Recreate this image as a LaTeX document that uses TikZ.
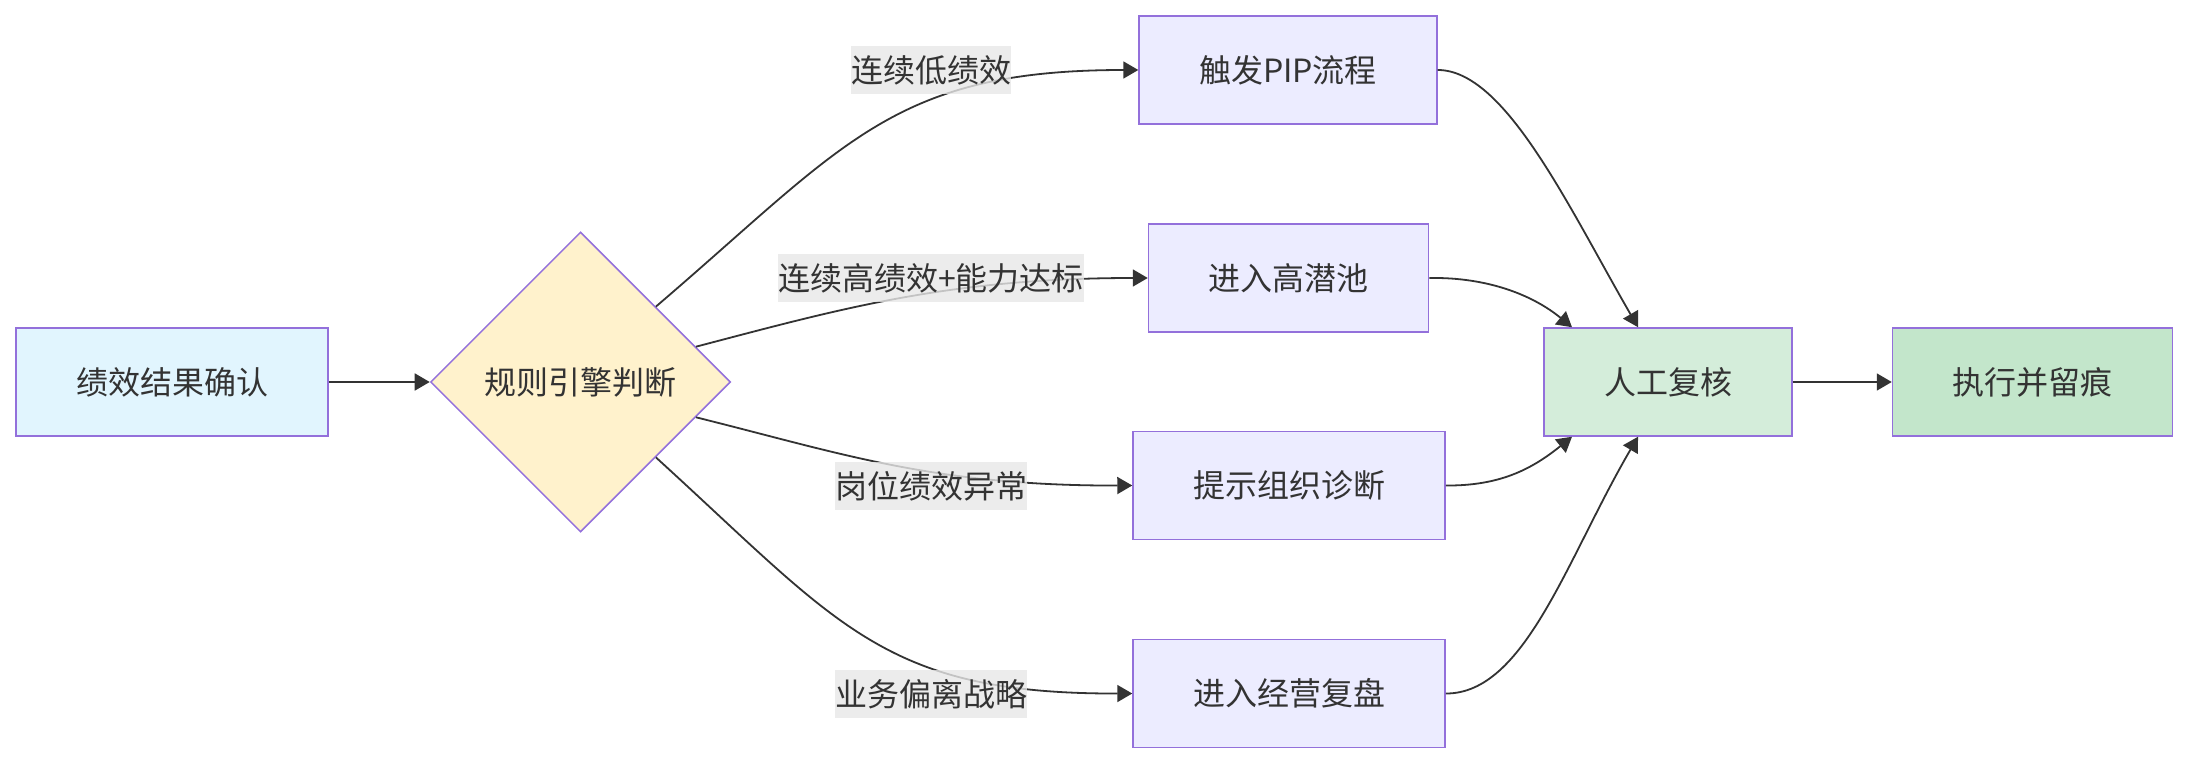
\documentclass[tikz,border=0pt]{standalone}
\usepackage{fontspec}
\newfontfamily\cjk{Noto Sans CJK SC}
\usetikzlibrary{shapes.geometric,arrows.meta,positioning}
\definecolor{ink}{HTML}{333333}
\definecolor{rim}{HTML}{9370DB}
\definecolor{inblue}{HTML}{E1F5FE}
\definecolor{ruleyel}{HTML}{FFF2CC}
\definecolor{actlil}{HTML}{ECECFF}
\definecolor{revgrn}{HTML}{D4EDDA}
\definecolor{fingrn}{HTML}{C3E6CB}
\definecolor{tag}{HTML}{E8E8E8}
\begin{document}
\begin{tikzpicture}[
  x=0.5pt, y=-0.5pt,
  box/.style={rectangle, draw=rim, line width=0.75pt, align=center, text=ink,
              font=\cjk\fontsize{16pt}{19pt}\selectfont,
              minimum height=54pt, inner xsep=30pt, inner ysep=0pt},
  entry/.style={box, fill=inblue},
  act/.style={box, fill=actlil},
  rev/.style={box, fill=revgrn},
  fin/.style={box, fill=fingrn},
  rule/.style={diamond, draw=rim, line width=0.75pt, fill=ruleyel, text=ink,
               font=\cjk\fontsize{16pt}{19pt}\selectfont,
               minimum width=150pt, minimum height=150pt, inner sep=0pt},
  lbl/.style={rectangle, fill=tag, fill opacity=0.8, text opacity=1, text=ink,
              font=\cjk\fontsize{16pt}{19pt}\selectfont,
              minimum height=24pt, inner xsep=0pt, inner ysep=0pt},
  arr/.style={draw=ink, line width=0.9pt, -{Triangle[length=7.5pt,width=8.5pt]}}]
  \fill[white] (0,0) rectangle (2188,764);
  \useasboundingbox (0,0) rectangle (2188,764);
  \node[entry] (a) at (172,382) {绩效结果确认};
  \node[rule, right=50.5pt of a] (d) {规则引擎判断};
  \node[act] (p1) at (1288,70) {触发PIP流程};
  \node[act] (p2) at (1288.5,278) {进入高潜池};
  \node[act] (p3) at (1289,485.5) {提示组织诊断};
  \node[act] (p4) at (1289,693.5) {进入经营复盘};
  \node[rev] (r) at (1668,382) {人工复核};
  \node[fin, right=49.5pt of r] (e) {执行并留痕};
  \draw[arr] (a) -- (d);
  \draw[arr] (d.north east) .. controls (845,145) and (892,70) .. (p1.west);
  \draw[arr] (d.17) .. controls (840,309) and (948,278) .. (p2.west);
  \draw[arr] (d.-17) .. controls (840,453) and (933,486) .. (p3.west);
  \draw[arr] (d.south east) .. controls (840,625) and (883,694) .. (p4.west);
  \draw[arr] (p1.east) .. controls (1505,70) and (1568,206) .. ([xshift=-15pt]r.north);
  \draw[arr] (p2.east) .. controls (1489,277) and (1534,296) .. ([xshift=-48pt]r.north);
  \draw[arr] (p3.east) .. controls (1500,486) and (1532,469) .. ([xshift=-48pt]r.south);
  \draw[arr] (p4.east) .. controls (1525,694) and (1567,558) .. ([xshift=-15pt]r.south);
  \draw[arr] (r) -- (e);
  \node[lbl] (l1) at (931,70) {连续低绩效};
  \node[lbl] (l2) at (931,278) {连续高绩效+能力达标};
  \node[lbl] (l3) at (931,486) {岗位绩效异常};
  \node[lbl] (l4) at (931,694) {业务偏离战略};
\end{tikzpicture}
\end{document}
